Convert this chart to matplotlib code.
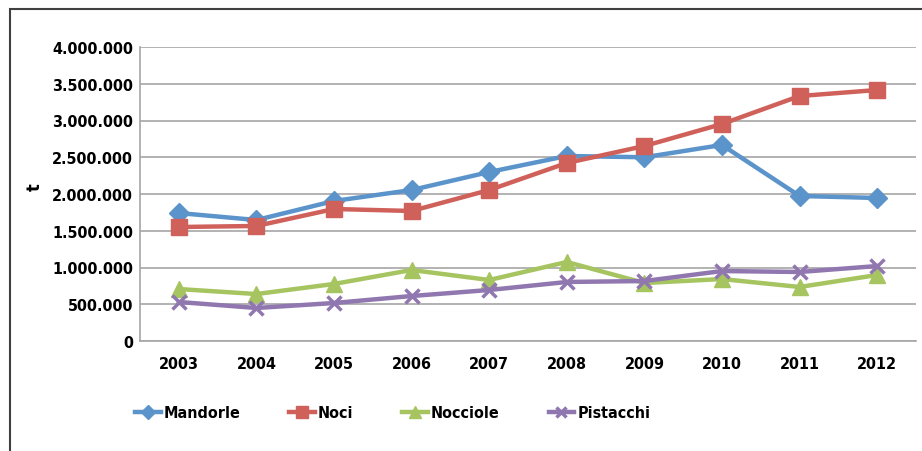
import matplotlib.pyplot as plt
from matplotlib.patches import Rectangle
from matplotlib.ticker import FuncFormatter

years = ["2003", "2004", "2005", "2006", "2007", "2008", "2009", "2010", "2011", "2012"]
mandorle = [1741000, 1646000, 1905000, 2054000, 2299000, 2517000, 2500000, 2667000, 1973000, 1946000]
noci = [1551000, 1565000, 1796000, 1769000, 2054000, 2422000, 2653000, 2952000, 3333000, 3415000]
nocciole = [707000, 639000, 776000, 966000, 830000, 1075000, 789000, 843000, 735000, 898000]
pistacchi = [531000, 449000, 517000, 612000, 694000, 803000, 816000, 952000, 939000, 1020000]

plt.rcParams['font.family'] = ['DejaVu Sans']
plt.rcParams['font.stretch'] = 'condensed'
plt.rcParams['font.weight'] = 'bold'

fig = plt.figure(figsize=(9.22, 4.52), dpi=100)
ax = fig.add_axes([140 / 922, 1 - 342 / 452, 776 / 922, 294 / 452])

x = range(len(years))
series = [
    ("Mandorle", mandorle, "#5B93CB", "D", 10),
    ("Noci", noci, "#D0605A", "s", 11),
    ("Nocciole", nocciole, "#A6C45F", "^", 11),
    ("Pistacchi", pistacchi, "#9077B0", "x", 10),
]
for name, vals, col, mk, ms in series:
    ax.plot(x, vals, color=col, lw=3.2, marker=mk, markersize=ms,
            markeredgewidth=2.5 if mk == "x" else 1, markeredgecolor=col,
            label=name, solid_joinstyle="round")

ax.set_xlim(-0.5, len(years) - 0.5)
ax.set_ylim(0, 4000000)
ax.set_yticks(range(0, 4000001, 500000))
ax.yaxis.set_major_formatter(FuncFormatter(lambda v, p: f"{int(v):,}".replace(",", ".")))
ax.set_xticks(list(x))
ax.set_xticklabels(years)
ax.tick_params(length=0, labelsize=11.5, pad=5)
ax.tick_params(axis="x", pad=11)
ax.grid(axis="y", color="#a6a6a6", lw=1.2)
ax.set_axisbelow(True)
for s in ["top", "right"]:
    ax.spines[s].set_visible(False)
for s in ["left", "bottom"]:
    ax.spines[s].set_color("#a6a6a6")
    ax.spines[s].set_linewidth(1.2)

fig.text(35 / 922, 1 - 187 / 452, "t", rotation=90, ha="center", va="center", fontsize=13)

fig.legend(loc="center left", bbox_to_anchor=(135 / 922, 1 - 414 / 452), ncol=4,
           frameon=False, fontsize=11.5, handlelength=1.6, handletextpad=0.2,
           columnspacing=3.05, markerscale=0.75, borderpad=0, borderaxespad=0)

# outer border
fig.patches.append(Rectangle((10 / 922, -0.1), 1.1, 1 - 10 / 452 + 0.1,
                             transform=fig.transFigure, fill=False,
                             edgecolor="#404040", lw=1.5))

fig.savefig("out.png", dpi=100)
